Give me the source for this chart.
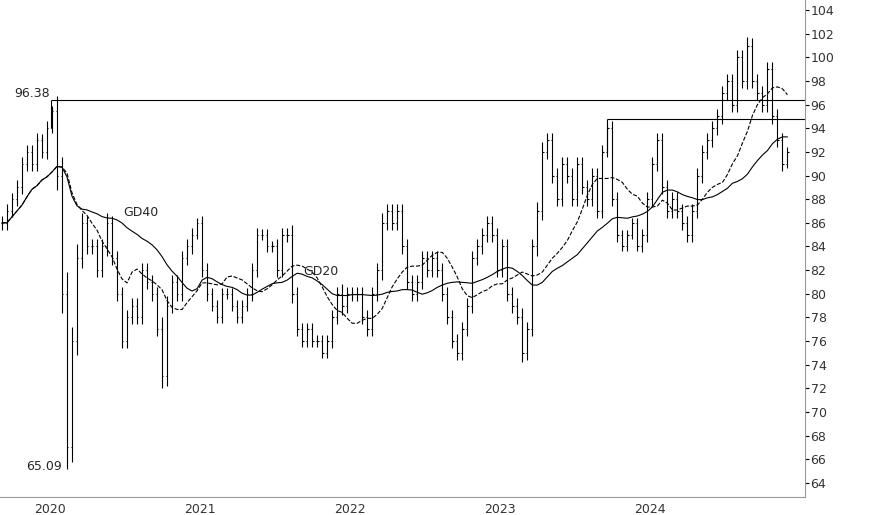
import numpy as np, pandas as pd, matplotlib
matplotlib.use("Agg")
import matplotlib.pyplot as plt, seaborn as sns

close = [86,87,88,89,91,92,91,93,92,94,95.5,90,80,67,76,83,86,84,84,82,84,86,83,80,76,78,79,78,82,81,
         80,77,73,79,81,80,83,84,85,86,82,80,79,78,80,80,79,78,79,80,82,85,85,84,84,82,85,85,80,77,
         76,77,76,76,75,76,78,80,79,80,80,80,78,77,80,82,86,87,86,87,84,81,80,81,83,82,83,82,80,78,
         76,75,77,79,83,84,85,86,85,82,84,80,79,78,75,77,84,87,92,93,90,88,91,90,88,91,89,88,90,87,
         92,94,88,85,84,85,86,84,85,88,91,93,89,87,88,87,86,85,87,90,92,93,94,95,97,98,96,100,98,101,
         98,97,96,99,95,93,91,92]
spread = [1.5,1.5,1.2,1.5,1.5,1.5,1.5,1.5,1.2,1.5,1,3,4,4.5,3,3,2,1.5,1.5,1.5,1.5,2,1.5,1.5,1.5,1.5,1.5,1.5,1.5,1.5,
          1.5,1.5,2.5,2,1.5,1.5,1.5,1.5,1.5,1,1.5,1.5,1.2,1.2,1.2,1.2,1.2,1.2,1.2,1.2,1.5,1.5,1.2,1.2,1.2,1.5,1.5,1.5,2,1.5,
          1.2,1.2,1.2,1.2,1.2,1.2,1.5,1.5,2,1.5,1.5,1.5,1.5,1.5,1.5,1.5,2,1.5,1.5,1.5,1.5,1.5,1.5,1.5,1.5,1.5,1.5,1.5,1.5,1.5,
          1.5,1.5,1.5,1.5,1.5,1.5,1.5,1.5,1.5,1.5,1.5,1.5,1.5,1.5,2,1.5,1.5,2,2,1.5,1.5,1.5,1.5,1.5,1.5,1.5,1.5,1.5,1.5,1.5,
          1.5,1,1.5,1.5,1,1,1,1,1.2,1.5,1.5,1.5,1.5,1.5,1.5,1.5,1.5,1.5,1.5,1.5,1.5,1.5,1.5,1.5,1.5,1.5,1.5,1.5,1.5,1.7,
          1.5,1.5,1.5,1.5,1.5,1.5,1.5,1]
x = 2019.68 + np.arange(len(close)) / 30.0
df = pd.DataFrame({"x": x, "close": close, "spread": spread})
df["open"] = df["close"].shift(1).fillna(df["close"])
df["high"] = np.maximum(df["open"], df["close"]) + df["spread"] * 0.4
df["low"] = np.minimum(df["open"], df["close"]) - df["spread"] * 0.4
df["GD20"] = df["close"].rolling(12, min_periods=1).mean().shift(1).bfill()
df["GD40"] = df["close"].rolling(26, min_periods=1).mean().shift(1).bfill()

sns.set_style("white")
fig = plt.figure(figsize=(8.74, 5.15), dpi=100)
ax = fig.add_axes([0, 18/515, 805/874, 1 - 18/515])
w = 1/110
ax.vlines(df.x, df.low, df.high, color="black", lw=0.8)
ax.hlines(df.open, df.x - w, df.x, color="black", lw=0.8)
ax.hlines(df.close, df.x, df.x + w, color="black", lw=0.8)
sns.lineplot(data=df, x="x", y="GD20", ax=ax, color="black", lw=0.8, linestyle="--")
sns.lineplot(data=df, x="x", y="GD40", ax=ax, color="black", lw=0.8)
xmax = 2025.03
ax.hlines(96.38, 2020.01, xmax, color="black", lw=0.8)
ax.vlines(2020.01, 94, 96.38, color="black", lw=0.8)
ax.hlines(94.8, 2023.71, xmax, color="black", lw=0.8)
ax.vlines(2023.71, 92, 94.8, color="black", lw=0.8)
ax.text(2019.76, 96.38, "96.38", fontsize=9, va="bottom")
ax.text(2019.84, 64.8, "65.09", fontsize=9, va="bottom")
ax.text(2020.49, 86.6, "GD40", fontsize=9)
ax.text(2021.69, 81.6, "GD20", fontsize=9)
ax.set_xlim(2019.667, xmax)
ax.set_ylim(62.8, 104.85)
ax.yaxis.tick_right()
ax.set_yticks(np.arange(64, 105, 2))
ax.set_xticks([2020, 2021, 2022, 2023, 2024])
ax.set_xticklabels(["2020", "2021", "2022", "2023", "2024"])
ax.tick_params(labelsize=9, labelcolor="#333333", length=3, pad=1, direction="out", color="black")
ax.set_xlabel(""); ax.set_ylabel("")
for s in ["top", "left"]:
    ax.spines[s].set_visible(False)
ax.spines["right"].set_color("#999999")
ax.spines["bottom"].set_color("#999999")
fig.savefig("out.png", dpi=100)
